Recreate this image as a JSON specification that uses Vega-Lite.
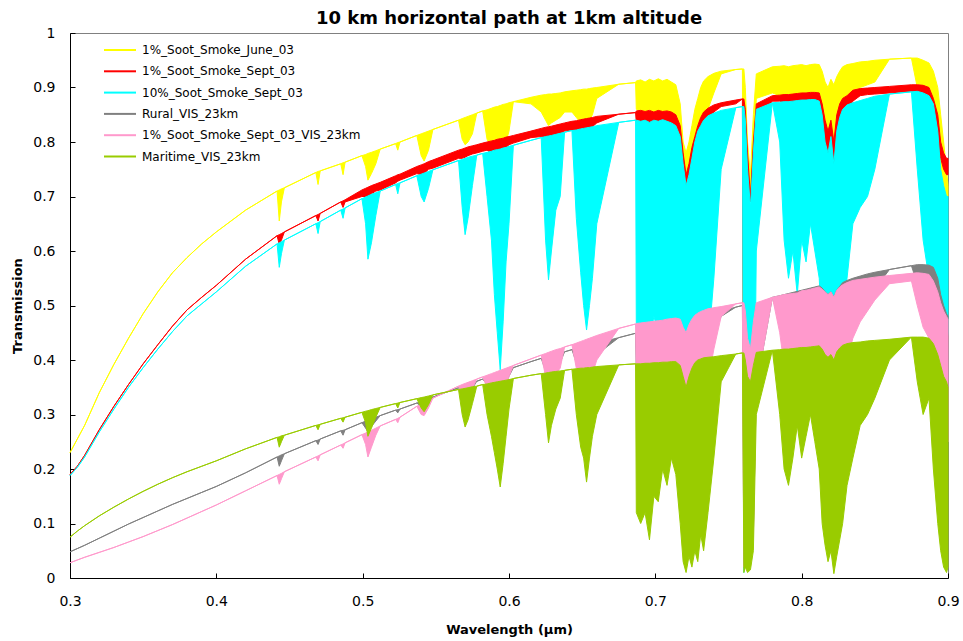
{
"$schema":"https://vega.github.io/schema/vega-lite/v6.json",
"width":878,"height":545,
"autosize":"none",
"padding":{"left":70,"top":33,"right":15,"bottom":63},
"background":"white",
"title":{"text":"10 km horizontal path at 1km altitude","font":"DejaVu Sans","fontSize":18,"fontWeight":"bold","color":"#000","offset":5,"dy":7,"anchor":"middle"},
"config":{"view":{"stroke":"#808080","strokeWidth":1},"axis":{"grid":false,"domainColor":"#000","tickColor":"#000","labelColor":"#000","titleColor":"#000","labelFont":"DejaVu Sans","titleFont":"DejaVu Sans","labelFontSize":14,"titleFontSize":13,"titleFontWeight":"bold","tickSize":-5,"labelFlush":false}},
"data":{"values":[
{"s":"a","w":0.3,"h":0.23,"l":0.23},{"s":"a","w":0.305,"h":0.255,"l":0.255},{"s":"a","w":0.31,"h":0.28,"l":0.28},{"s":"a","w":0.32,"h":0.34,"l":0.34},{"s":"a","w":0.33,"h":0.392,"l":0.392},{"s":"a","w":0.34,"h":0.44,"l":0.44},{"s":"a","w":0.35,"h":0.485,"l":0.485},{"s":"a","w":0.36,"h":0.525,"l":0.525},{"s":"a","w":0.37,"h":0.56,"l":0.56},{"s":"a","w":0.38,"h":0.588,"l":0.588},{"s":"a","w":0.39,"h":0.613,"l":0.613},{"s":"a","w":0.4,"h":0.635,"l":0.635},{"s":"a","w":0.42,"h":0.675,"l":0.675},{"s":"a","w":0.4415,"h":0.71,"l":0.71},{"s":"a","w":0.443,"h":0.712,"l":0.655},{"s":"a","w":0.4445,"h":0.714,"l":0.69},{"s":"a","w":0.4465,"h":0.716,"l":0.716},{"s":"a","w":0.468,"h":0.744,"l":0.744},{"s":"a","w":0.4695,"h":0.746,"l":0.722},{"s":"a","w":0.471,"h":0.747,"l":0.747},{"s":"a","w":0.485,"h":0.76,"l":0.76},{"s":"a","w":0.4866,"h":0.762,"l":0.74},{"s":"a","w":0.488,"h":0.763,"l":0.763},{"s":"a","w":0.4995,"h":0.775,"l":0.775},{"s":"a","w":0.502,"h":0.777,"l":0.755},{"s":"a","w":0.5036,"h":0.779,"l":0.73},{"s":"a","w":0.506,"h":0.781,"l":0.742},{"s":"a","w":0.509,"h":0.784,"l":0.76},{"s":"a","w":0.512,"h":0.787,"l":0.787},{"s":"a","w":0.5225,"h":0.797,"l":0.797},{"s":"a","w":0.524,"h":0.799,"l":0.785},{"s":"a","w":0.5255,"h":0.8,"l":0.8},{"s":"a","w":0.537,"h":0.812,"l":0.812},{"s":"a","w":0.54,"h":0.815,"l":0.775},{"s":"a","w":0.542,"h":0.817,"l":0.765},{"s":"a","w":0.545,"h":0.82,"l":0.785},{"s":"a","w":0.548,"h":0.823,"l":0.823},{"s":"a","w":0.5655,"h":0.84,"l":0.84},{"s":"a","w":0.568,"h":0.843,"l":0.805},{"s":"a","w":0.57,"h":0.845,"l":0.795},{"s":"a","w":0.572,"h":0.847,"l":0.8},{"s":"a","w":0.575,"h":0.85,"l":0.815},{"s":"a","w":0.578,"h":0.853,"l":0.853},{"s":"a","w":0.582,"h":0.857,"l":0.857},{"s":"a","w":0.585,"h":0.859,"l":0.805},{"s":"a","w":0.588,"h":0.862,"l":0.79},{"s":"a","w":0.59,"h":0.864,"l":0.78},{"s":"a","w":0.592,"h":0.865,"l":0.79},{"s":"a","w":0.594,"h":0.867,"l":0.78},{"s":"a","w":0.596,"h":0.869,"l":0.79},{"s":"a","w":0.598,"h":0.87,"l":0.8},{"s":"a","w":0.6,"h":0.872,"l":0.82},{"s":"a","w":0.603,"h":0.874,"l":0.874},{"s":"a","w":0.615,"h":0.882,"l":0.87},{"s":"a","w":0.622,"h":0.886,"l":0.855},{"s":"a","w":0.625,"h":0.887,"l":0.84},{"s":"a","w":0.627,"h":0.888,"l":0.83},{"s":"a","w":0.629,"h":0.888,"l":0.835},{"s":"a","w":0.632,"h":0.889,"l":0.84},{"s":"a","w":0.635,"h":0.89,"l":0.845},{"s":"a","w":0.638,"h":0.892,"l":0.855},{"s":"a","w":0.643,"h":0.894,"l":0.855},{"s":"a","w":0.646,"h":0.895,"l":0.845},{"s":"a","w":0.649,"h":0.896,"l":0.835},{"s":"a","w":0.651,"h":0.897,"l":0.83},{"s":"a","w":0.653,"h":0.897,"l":0.835},{"s":"a","w":0.655,"h":0.898,"l":0.84},{"s":"a","w":0.657,"h":0.899,"l":0.85},{"s":"a","w":0.66,"h":0.9,"l":0.88},{"s":"a","w":0.675,"h":0.906,"l":0.906},{"s":"a","w":0.6865,"h":0.909,"l":0.909},{"s":"a","w":0.687,"h":0.912,"l":0.86},{"s":"a","w":0.69,"h":0.914,"l":0.855},{"s":"a","w":0.693,"h":0.91,"l":0.85},{"s":"a","w":0.696,"h":0.915,"l":0.86},{"s":"a","w":0.699,"h":0.912,"l":0.85},{"s":"a","w":0.702,"h":0.916,"l":0.855},{"s":"a","w":0.705,"h":0.912,"l":0.85},{"s":"a","w":0.708,"h":0.915,"l":0.845},{"s":"a","w":0.711,"h":0.91,"l":0.84},{"s":"a","w":0.714,"h":0.905,"l":0.82},{"s":"a","w":0.717,"h":0.87,"l":0.8},{"s":"a","w":0.719,"h":0.8,"l":0.745},{"s":"a","w":0.721,"h":0.78,"l":0.74},{"s":"a","w":0.723,"h":0.8,"l":0.75},{"s":"a","w":0.725,"h":0.83,"l":0.77},{"s":"a","w":0.727,"h":0.86,"l":0.785},{"s":"a","w":0.729,"h":0.88,"l":0.8},{"s":"a","w":0.731,"h":0.9,"l":0.82},{"s":"a","w":0.733,"h":0.912,"l":0.84},{"s":"a","w":0.736,"h":0.92,"l":0.86},{"s":"a","w":0.74,"h":0.926,"l":0.89},{"s":"a","w":0.745,"h":0.93,"l":0.925},{"s":"a","w":0.755,"h":0.933,"l":0.933},{"s":"a","w":0.7595,"h":0.934,"l":0.934},{"s":"a","w":0.7605,"h":0.934,"l":0.02},{"s":"a","w":0.7615,"h":0.9,"l":0.8},{"s":"a","w":0.763,"h":0.8,"l":0.72},{"s":"a","w":0.765,"h":0.74,"l":0.7},{"s":"a","w":0.767,"h":0.85,"l":0.75},{"s":"a","w":0.769,"h":0.925,"l":0.88},{"s":"a","w":0.78,"h":0.938,"l":0.89},{"s":"a","w":0.785,"h":0.939,"l":0.885},{"s":"a","w":0.788,"h":0.94,"l":0.88},{"s":"a","w":0.791,"h":0.938,"l":0.885},{"s":"a","w":0.794,"h":0.94,"l":0.88},{"s":"a","w":0.797,"h":0.941,"l":0.885},{"s":"a","w":0.8,"h":0.942,"l":0.88},{"s":"a","w":0.803,"h":0.94,"l":0.885},{"s":"a","w":0.806,"h":0.942,"l":0.88},{"s":"a","w":0.809,"h":0.943,"l":0.885},{"s":"a","w":0.812,"h":0.942,"l":0.87},{"s":"a","w":0.814,"h":0.93,"l":0.83},{"s":"a","w":0.816,"h":0.91,"l":0.78},{"s":"a","w":0.818,"h":0.9,"l":0.76},{"s":"a","w":0.82,"h":0.915,"l":0.77},{"s":"a","w":0.822,"h":0.905,"l":0.75},{"s":"a","w":0.824,"h":0.92,"l":0.78},{"s":"a","w":0.826,"h":0.93,"l":0.8},{"s":"a","w":0.828,"h":0.938,"l":0.84},{"s":"a","w":0.831,"h":0.942,"l":0.87},{"s":"a","w":0.835,"h":0.944,"l":0.89},{"s":"a","w":0.84,"h":0.947,"l":0.9},{"s":"a","w":0.845,"h":0.948,"l":0.905},{"s":"a","w":0.85,"h":0.95,"l":0.91},{"s":"a","w":0.86,"h":0.952,"l":0.952},{"s":"a","w":0.875,"h":0.954,"l":0.954},{"s":"a","w":0.879,"h":0.954,"l":0.9},{"s":"a","w":0.883,"h":0.95,"l":0.89},{"s":"a","w":0.887,"h":0.945,"l":0.87},{"s":"a","w":0.89,"h":0.93,"l":0.84},{"s":"a","w":0.893,"h":0.9,"l":0.79},{"s":"a","w":0.895,"h":0.85,"l":0.75},{"s":"a","w":0.897,"h":0.8,"l":0.72},{"s":"a","w":0.899,"h":0.75,"l":0.7},{"s":"a","w":0.9,"h":0.72,"l":0.7},

{"s":"b","w":0.3,"h":0.19,"l":0.19},{"s":"b","w":0.305,"h":0.205,"l":0.205},{"s":"b","w":0.31,"h":0.225,"l":0.225},{"s":"b","w":0.32,"h":0.272,"l":0.272},{"s":"b","w":0.33,"h":0.315,"l":0.315},{"s":"b","w":0.34,"h":0.355,"l":0.355},{"s":"b","w":0.35,"h":0.393,"l":0.393},{"s":"b","w":0.36,"h":0.428,"l":0.428},{"s":"b","w":0.37,"h":0.462,"l":0.462},{"s":"b","w":0.38,"h":0.492,"l":0.492},{"s":"b","w":0.39,"h":0.515,"l":0.515},{"s":"b","w":0.4,"h":0.537,"l":0.537},{"s":"b","w":0.42,"h":0.585,"l":0.585},{"s":"b","w":0.4415,"h":0.628,"l":0.628},{"s":"b","w":0.443,"h":0.63,"l":0.612},{"s":"b","w":0.4445,"h":0.632,"l":0.62},{"s":"b","w":0.4465,"h":0.635,"l":0.635},{"s":"b","w":0.468,"h":0.665,"l":0.665},{"s":"b","w":0.4695,"h":0.667,"l":0.655},{"s":"b","w":0.471,"h":0.669,"l":0.669},{"s":"b","w":0.485,"h":0.69,"l":0.69},{"s":"b","w":0.4866,"h":0.692,"l":0.68},{"s":"b","w":0.488,"h":0.694,"l":0.69},{"s":"b","w":0.4995,"h":0.712,"l":0.7},{"s":"b","w":0.502,"h":0.715,"l":0.7},{"s":"b","w":0.5036,"h":0.717,"l":0.7},{"s":"b","w":0.506,"h":0.72,"l":0.705},{"s":"b","w":0.509,"h":0.723,"l":0.71},{"s":"b","w":0.512,"h":0.726,"l":0.712},{"s":"b","w":0.5225,"h":0.738,"l":0.725},{"s":"b","w":0.524,"h":0.74,"l":0.728},{"s":"b","w":0.5255,"h":0.741,"l":0.73},{"s":"b","w":0.537,"h":0.755,"l":0.742},{"s":"b","w":0.54,"h":0.758,"l":0.74},{"s":"b","w":0.542,"h":0.76,"l":0.742},{"s":"b","w":0.545,"h":0.764,"l":0.75},{"s":"b","w":0.548,"h":0.767,"l":0.752},{"s":"b","w":0.5655,"h":0.785,"l":0.77},{"s":"b","w":0.568,"h":0.787,"l":0.77},{"s":"b","w":0.57,"h":0.789,"l":0.772},{"s":"b","w":0.572,"h":0.791,"l":0.775},{"s":"b","w":0.575,"h":0.793,"l":0.778},{"s":"b","w":0.578,"h":0.795,"l":0.78},{"s":"b","w":0.582,"h":0.798,"l":0.783},{"s":"b","w":0.585,"h":0.8,"l":0.785},{"s":"b","w":0.588,"h":0.802,"l":0.78},{"s":"b","w":0.59,"h":0.803,"l":0.778},{"s":"b","w":0.592,"h":0.805,"l":0.78},{"s":"b","w":0.594,"h":0.806,"l":0.776},{"s":"b","w":0.596,"h":0.807,"l":0.782},{"s":"b","w":0.598,"h":0.809,"l":0.79},{"s":"b","w":0.6,"h":0.81,"l":0.795},{"s":"b","w":0.603,"h":0.812,"l":0.798},{"s":"b","w":0.615,"h":0.82,"l":0.808},{"s":"b","w":0.622,"h":0.825,"l":0.81},{"s":"b","w":0.625,"h":0.827,"l":0.808},{"s":"b","w":0.627,"h":0.828,"l":0.805},{"s":"b","w":0.629,"h":0.829,"l":0.808},{"s":"b","w":0.632,"h":0.831,"l":0.812},{"s":"b","w":0.635,"h":0.833,"l":0.815},{"s":"b","w":0.638,"h":0.835,"l":0.82},{"s":"b","w":0.643,"h":0.838,"l":0.822},{"s":"b","w":0.646,"h":0.839,"l":0.822},{"s":"b","w":0.649,"h":0.841,"l":0.82},{"s":"b","w":0.651,"h":0.842,"l":0.822},{"s":"b","w":0.653,"h":0.843,"l":0.82},{"s":"b","w":0.655,"h":0.844,"l":0.825},{"s":"b","w":0.657,"h":0.845,"l":0.828},{"s":"b","w":0.66,"h":0.847,"l":0.835},{"s":"b","w":0.675,"h":0.851,"l":0.851},{"s":"b","w":0.6865,"h":0.854,"l":0.854},{"s":"b","w":0.687,"h":0.857,"l":0.835},{"s":"b","w":0.69,"h":0.858,"l":0.83},{"s":"b","w":0.693,"h":0.856,"l":0.835},{"s":"b","w":0.696,"h":0.858,"l":0.83},{"s":"b","w":0.699,"h":0.855,"l":0.828},{"s":"b","w":0.702,"h":0.858,"l":0.832},{"s":"b","w":0.705,"h":0.856,"l":0.828},{"s":"b","w":0.708,"h":0.857,"l":0.83},{"s":"b","w":0.711,"h":0.855,"l":0.825},{"s":"b","w":0.714,"h":0.85,"l":0.815},{"s":"b","w":0.717,"h":0.83,"l":0.78},{"s":"b","w":0.719,"h":0.78,"l":0.73},{"s":"b","w":0.721,"h":0.74,"l":0.72},{"s":"b","w":0.723,"h":0.76,"l":0.73},{"s":"b","w":0.725,"h":0.79,"l":0.745},{"s":"b","w":0.727,"h":0.81,"l":0.76},{"s":"b","w":0.729,"h":0.83,"l":0.78},{"s":"b","w":0.731,"h":0.845,"l":0.8},{"s":"b","w":0.733,"h":0.855,"l":0.82},{"s":"b","w":0.736,"h":0.862,"l":0.84},{"s":"b","w":0.74,"h":0.868,"l":0.855},{"s":"b","w":0.745,"h":0.872,"l":0.865},{"s":"b","w":0.755,"h":0.877,"l":0.87},{"s":"b","w":0.7595,"h":0.879,"l":0.879},{"s":"b","w":0.7605,"h":0.879,"l":0.02},{"s":"b","w":0.7615,"h":0.86,"l":0.78},{"s":"b","w":0.763,"h":0.78,"l":0.7},{"s":"b","w":0.765,"h":0.7,"l":0.69},{"s":"b","w":0.767,"h":0.8,"l":0.72},{"s":"b","w":0.769,"h":0.87,"l":0.84},{"s":"b","w":0.78,"h":0.885,"l":0.875},{"s":"b","w":0.785,"h":0.886,"l":0.875},{"s":"b","w":0.788,"h":0.887,"l":0.872},{"s":"b","w":0.791,"h":0.887,"l":0.875},{"s":"b","w":0.794,"h":0.888,"l":0.872},{"s":"b","w":0.797,"h":0.889,"l":0.876},{"s":"b","w":0.8,"h":0.89,"l":0.875},{"s":"b","w":0.803,"h":0.89,"l":0.876},{"s":"b","w":0.806,"h":0.891,"l":0.874},{"s":"b","w":0.809,"h":0.891,"l":0.876},{"s":"b","w":0.812,"h":0.89,"l":0.86},{"s":"b","w":0.814,"h":0.87,"l":0.8},{"s":"b","w":0.816,"h":0.84,"l":0.76},{"s":"b","w":0.818,"h":0.82,"l":0.74},{"s":"b","w":0.82,"h":0.84,"l":0.76},{"s":"b","w":0.822,"h":0.8,"l":0.72},{"s":"b","w":0.824,"h":0.85,"l":0.77},{"s":"b","w":0.826,"h":0.87,"l":0.8},{"s":"b","w":0.828,"h":0.88,"l":0.83},{"s":"b","w":0.831,"h":0.885,"l":0.86},{"s":"b","w":0.835,"h":0.895,"l":0.875},{"s":"b","w":0.84,"h":0.898,"l":0.885},{"s":"b","w":0.845,"h":0.899,"l":0.887},{"s":"b","w":0.85,"h":0.9,"l":0.888},{"s":"b","w":0.86,"h":0.902,"l":0.89},{"s":"b","w":0.875,"h":0.905,"l":0.893},{"s":"b","w":0.879,"h":0.905,"l":0.89},{"s":"b","w":0.883,"h":0.904,"l":0.885},{"s":"b","w":0.887,"h":0.9,"l":0.87},{"s":"b","w":0.89,"h":0.88,"l":0.84},{"s":"b","w":0.893,"h":0.85,"l":0.8},{"s":"b","w":0.895,"h":0.8,"l":0.77},{"s":"b","w":0.897,"h":0.78,"l":0.75},{"s":"b","w":0.899,"h":0.77,"l":0.74},{"s":"b","w":0.9,"h":0.77,"l":0.74},

{"s":"c","w":0.3,"h":0.188,"l":0.188},{"s":"c","w":0.305,"h":0.203,"l":0.203},{"s":"c","w":0.31,"h":0.222,"l":0.222},{"s":"c","w":0.32,"h":0.268,"l":0.268},{"s":"c","w":0.33,"h":0.31,"l":0.31},{"s":"c","w":0.34,"h":0.35,"l":0.35},{"s":"c","w":0.35,"h":0.386,"l":0.386},{"s":"c","w":0.36,"h":0.42,"l":0.42},{"s":"c","w":0.37,"h":0.452,"l":0.452},{"s":"c","w":0.38,"h":0.481,"l":0.481},{"s":"c","w":0.39,"h":0.503,"l":0.503},{"s":"c","w":0.4,"h":0.525,"l":0.525},{"s":"c","w":0.42,"h":0.572,"l":0.572},{"s":"c","w":0.4415,"h":0.613,"l":0.613},{"s":"c","w":0.443,"h":0.615,"l":0.57},{"s":"c","w":0.4445,"h":0.617,"l":0.595},{"s":"c","w":0.4465,"h":0.62,"l":0.62},{"s":"c","w":0.468,"h":0.65,"l":0.65},{"s":"c","w":0.4695,"h":0.652,"l":0.632},{"s":"c","w":0.471,"h":0.654,"l":0.654},{"s":"c","w":0.485,"h":0.675,"l":0.675},{"s":"c","w":0.4866,"h":0.677,"l":0.66},{"s":"c","w":0.488,"h":0.679,"l":0.679},{"s":"c","w":0.4995,"h":0.696,"l":0.696},{"s":"c","w":0.502,"h":0.699,"l":0.65},{"s":"c","w":0.5036,"h":0.701,"l":0.585},{"s":"c","w":0.506,"h":0.704,"l":0.615},{"s":"c","w":0.509,"h":0.707,"l":0.665},{"s":"c","w":0.512,"h":0.71,"l":0.71},{"s":"c","w":0.5225,"h":0.722,"l":0.722},{"s":"c","w":0.524,"h":0.724,"l":0.705},{"s":"c","w":0.5255,"h":0.725,"l":0.725},{"s":"c","w":0.537,"h":0.738,"l":0.738},{"s":"c","w":0.54,"h":0.741,"l":0.7},{"s":"c","w":0.542,"h":0.743,"l":0.69},{"s":"c","w":0.545,"h":0.746,"l":0.715},{"s":"c","w":0.548,"h":0.749,"l":0.749},{"s":"c","w":0.5655,"h":0.766,"l":0.766},{"s":"c","w":0.568,"h":0.768,"l":0.68},{"s":"c","w":0.57,"h":0.77,"l":0.63},{"s":"c","w":0.572,"h":0.772,"l":0.66},{"s":"c","w":0.575,"h":0.774,"l":0.72},{"s":"c","w":0.578,"h":0.776,"l":0.776},{"s":"c","w":0.582,"h":0.779,"l":0.779},{"s":"c","w":0.585,"h":0.781,"l":0.7},{"s":"c","w":0.588,"h":0.783,"l":0.62},{"s":"c","w":0.59,"h":0.785,"l":0.52},{"s":"c","w":0.592,"h":0.786,"l":0.45},{"s":"c","w":0.594,"h":0.787,"l":0.382},{"s":"c","w":0.596,"h":0.789,"l":0.47},{"s":"c","w":0.598,"h":0.79,"l":0.58},{"s":"c","w":0.6,"h":0.792,"l":0.65},{"s":"c","w":0.603,"h":0.794,"l":0.794},{"s":"c","w":0.615,"h":0.803,"l":0.803},{"s":"c","w":0.622,"h":0.808,"l":0.808},{"s":"c","w":0.625,"h":0.81,"l":0.62},{"s":"c","w":0.627,"h":0.811,"l":0.547},{"s":"c","w":0.629,"h":0.812,"l":0.6},{"s":"c","w":0.632,"h":0.814,"l":0.675},{"s":"c","w":0.635,"h":0.816,"l":0.7},{"s":"c","w":0.638,"h":0.818,"l":0.818},{"s":"c","w":0.643,"h":0.821,"l":0.821},{"s":"c","w":0.646,"h":0.822,"l":0.66},{"s":"c","w":0.649,"h":0.824,"l":0.56},{"s":"c","w":0.651,"h":0.825,"l":0.5},{"s":"c","w":0.653,"h":0.826,"l":0.455},{"s":"c","w":0.655,"h":0.827,"l":0.5},{"s":"c","w":0.657,"h":0.828,"l":0.55},{"s":"c","w":0.66,"h":0.83,"l":0.65},{"s":"c","w":0.675,"h":0.836,"l":0.836},{"s":"c","w":0.6865,"h":0.84,"l":0.84},{"s":"c","w":0.687,"h":0.84,"l":0.46},{"s":"c","w":0.69,"h":0.838,"l":0.44},{"s":"c","w":0.693,"h":0.84,"l":0.47},{"s":"c","w":0.696,"h":0.836,"l":0.43},{"s":"c","w":0.699,"h":0.84,"l":0.48},{"s":"c","w":0.702,"h":0.838,"l":0.45},{"s":"c","w":0.705,"h":0.841,"l":0.47},{"s":"c","w":0.708,"h":0.838,"l":0.44},{"s":"c","w":0.711,"h":0.835,"l":0.45},{"s":"c","w":0.714,"h":0.83,"l":0.42},{"s":"c","w":0.717,"h":0.81,"l":0.4},{"s":"c","w":0.719,"h":0.76,"l":0.34},{"s":"c","w":0.721,"h":0.72,"l":0.3},{"s":"c","w":0.723,"h":0.74,"l":0.32},{"s":"c","w":0.725,"h":0.77,"l":0.3},{"s":"c","w":0.727,"h":0.8,"l":0.32},{"s":"c","w":0.729,"h":0.82,"l":0.34},{"s":"c","w":0.731,"h":0.83,"l":0.35},{"s":"c","w":0.733,"h":0.84,"l":0.38},{"s":"c","w":0.736,"h":0.848,"l":0.42},{"s":"c","w":0.74,"h":0.853,"l":0.55},{"s":"c","w":0.745,"h":0.858,"l":0.75},{"s":"c","w":0.755,"h":0.863,"l":0.863},{"s":"c","w":0.7595,"h":0.865,"l":0.865},{"s":"c","w":0.7605,"h":0.865,"l":0.01},{"s":"c","w":0.7615,"h":0.84,"l":0.05},{"s":"c","w":0.763,"h":0.75,"l":0.02},{"s":"c","w":0.765,"h":0.68,"l":0.03},{"s":"c","w":0.767,"h":0.78,"l":0.1},{"s":"c","w":0.769,"h":0.86,"l":0.6},{"s":"c","w":0.78,"h":0.872,"l":0.872},{"s":"c","w":0.785,"h":0.873,"l":0.8},{"s":"c","w":0.788,"h":0.874,"l":0.62},{"s":"c","w":0.791,"h":0.874,"l":0.55},{"s":"c","w":0.794,"h":0.875,"l":0.6},{"s":"c","w":0.797,"h":0.876,"l":0.52},{"s":"c","w":0.8,"h":0.877,"l":0.62},{"s":"c","w":0.803,"h":0.877,"l":0.58},{"s":"c","w":0.806,"h":0.878,"l":0.65},{"s":"c","w":0.809,"h":0.878,"l":0.6},{"s":"c","w":0.812,"h":0.875,"l":0.55},{"s":"c","w":0.814,"h":0.85,"l":0.44},{"s":"c","w":0.816,"h":0.8,"l":0.4},{"s":"c","w":0.818,"h":0.78,"l":0.42},{"s":"c","w":0.82,"h":0.81,"l":0.38},{"s":"c","w":0.822,"h":0.76,"l":0.4},{"s":"c","w":0.824,"h":0.82,"l":0.36},{"s":"c","w":0.826,"h":0.845,"l":0.42},{"s":"c","w":0.828,"h":0.86,"l":0.46},{"s":"c","w":0.831,"h":0.868,"l":0.55},{"s":"c","w":0.835,"h":0.872,"l":0.65},{"s":"c","w":0.84,"h":0.876,"l":0.68},{"s":"c","w":0.845,"h":0.88,"l":0.7},{"s":"c","w":0.85,"h":0.884,"l":0.75},{"s":"c","w":0.86,"h":0.888,"l":0.888},{"s":"c","w":0.875,"h":0.892,"l":0.892},{"s":"c","w":0.879,"h":0.893,"l":0.75},{"s":"c","w":0.883,"h":0.89,"l":0.62},{"s":"c","w":0.887,"h":0.885,"l":0.55},{"s":"c","w":0.89,"h":0.87,"l":0.5},{"s":"c","w":0.893,"h":0.82,"l":0.42},{"s":"c","w":0.895,"h":0.75,"l":0.4},{"s":"c","w":0.897,"h":0.72,"l":0.42},{"s":"c","w":0.899,"h":0.7,"l":0.43},{"s":"c","w":0.9,"h":0.7,"l":0.45},

{"s":"d","w":0.3,"h":0.048,"l":0.048},{"s":"d","w":0.305,"h":0.054,"l":0.054},{"s":"d","w":0.31,"h":0.06,"l":0.06},{"s":"d","w":0.32,"h":0.073,"l":0.073},{"s":"d","w":0.33,"h":0.086,"l":0.086},{"s":"d","w":0.34,"h":0.099,"l":0.099},{"s":"d","w":0.35,"h":0.111,"l":0.111},{"s":"d","w":0.36,"h":0.123,"l":0.123},{"s":"d","w":0.37,"h":0.135,"l":0.135},{"s":"d","w":0.38,"h":0.146,"l":0.146},{"s":"d","w":0.39,"h":0.157,"l":0.157},{"s":"d","w":0.4,"h":0.168,"l":0.168},{"s":"d","w":0.42,"h":0.193,"l":0.193},{"s":"d","w":0.4415,"h":0.222,"l":0.222},{"s":"d","w":0.443,"h":0.224,"l":0.205},{"s":"d","w":0.4445,"h":0.226,"l":0.215},{"s":"d","w":0.4465,"h":0.228,"l":0.228},{"s":"d","w":0.468,"h":0.252,"l":0.252},{"s":"d","w":0.4695,"h":0.253,"l":0.245},{"s":"d","w":0.471,"h":0.255,"l":0.255},{"s":"d","w":0.485,"h":0.27,"l":0.27},{"s":"d","w":0.4866,"h":0.271,"l":0.262},{"s":"d","w":0.488,"h":0.272,"l":0.272},{"s":"d","w":0.4995,"h":0.285,"l":0.285},{"s":"d","w":0.502,"h":0.288,"l":0.275},{"s":"d","w":0.5036,"h":0.29,"l":0.268},{"s":"d","w":0.506,"h":0.292,"l":0.278},{"s":"d","w":0.509,"h":0.295,"l":0.288},{"s":"d","w":0.512,"h":0.298,"l":0.298},{"s":"d","w":0.5225,"h":0.308,"l":0.308},{"s":"d","w":0.524,"h":0.309,"l":0.303},{"s":"d","w":0.5255,"h":0.31,"l":0.31},{"s":"d","w":0.537,"h":0.321,"l":0.321},{"s":"d","w":0.54,"h":0.324,"l":0.315},{"s":"d","w":0.542,"h":0.326,"l":0.312},{"s":"d","w":0.545,"h":0.329,"l":0.32},{"s":"d","w":0.548,"h":0.332,"l":0.332},{"s":"d","w":0.5655,"h":0.349,"l":0.349},{"s":"d","w":0.568,"h":0.351,"l":0.34},{"s":"d","w":0.57,"h":0.353,"l":0.335},{"s":"d","w":0.572,"h":0.355,"l":0.338},{"s":"d","w":0.575,"h":0.358,"l":0.348},{"s":"d","w":0.578,"h":0.361,"l":0.361},{"s":"d","w":0.582,"h":0.365,"l":0.365},{"s":"d","w":0.585,"h":0.368,"l":0.355},{"s":"d","w":0.588,"h":0.371,"l":0.35},{"s":"d","w":0.59,"h":0.373,"l":0.345},{"s":"d","w":0.592,"h":0.375,"l":0.34},{"s":"d","w":0.594,"h":0.377,"l":0.335},{"s":"d","w":0.596,"h":0.379,"l":0.345},{"s":"d","w":0.598,"h":0.381,"l":0.355},{"s":"d","w":0.6,"h":0.383,"l":0.37},{"s":"d","w":0.603,"h":0.386,"l":0.386},{"s":"d","w":0.615,"h":0.397,"l":0.397},{"s":"d","w":0.622,"h":0.403,"l":0.403},{"s":"d","w":0.625,"h":0.405,"l":0.38},{"s":"d","w":0.627,"h":0.407,"l":0.365},{"s":"d","w":0.629,"h":0.408,"l":0.375},{"s":"d","w":0.632,"h":0.411,"l":0.385},{"s":"d","w":0.635,"h":0.413,"l":0.395},{"s":"d","w":0.638,"h":0.415,"l":0.415},{"s":"d","w":0.643,"h":0.419,"l":0.419},{"s":"d","w":0.646,"h":0.421,"l":0.395},{"s":"d","w":0.649,"h":0.423,"l":0.38},{"s":"d","w":0.651,"h":0.424,"l":0.37},{"s":"d","w":0.653,"h":0.426,"l":0.365},{"s":"d","w":0.655,"h":0.427,"l":0.375},{"s":"d","w":0.657,"h":0.429,"l":0.39},{"s":"d","w":0.66,"h":0.431,"l":0.41},{"s":"d","w":0.675,"h":0.441,"l":0.441},{"s":"d","w":0.6865,"h":0.449,"l":0.449},{"s":"d","w":0.687,"h":0.449,"l":0.38},{"s":"d","w":0.69,"h":0.451,"l":0.37},{"s":"d","w":0.693,"h":0.452,"l":0.38},{"s":"d","w":0.696,"h":0.454,"l":0.37},{"s":"d","w":0.699,"h":0.456,"l":0.385},{"s":"d","w":0.702,"h":0.457,"l":0.375},{"s":"d","w":0.705,"h":0.459,"l":0.385},{"s":"d","w":0.708,"h":0.461,"l":0.375},{"s":"d","w":0.711,"h":0.463,"l":0.385},{"s":"d","w":0.714,"h":0.464,"l":0.37},{"s":"d","w":0.717,"h":0.46,"l":0.35},{"s":"d","w":0.719,"h":0.44,"l":0.32},{"s":"d","w":0.721,"h":0.42,"l":0.3},{"s":"d","w":0.723,"h":0.44,"l":0.31},{"s":"d","w":0.725,"h":0.455,"l":0.3},{"s":"d","w":0.727,"h":0.465,"l":0.32},{"s":"d","w":0.729,"h":0.472,"l":0.33},{"s":"d","w":0.731,"h":0.478,"l":0.34},{"s":"d","w":0.733,"h":0.482,"l":0.36},{"s":"d","w":0.736,"h":0.485,"l":0.4},{"s":"d","w":0.74,"h":0.488,"l":0.45},{"s":"d","w":0.745,"h":0.49,"l":0.48},{"s":"d","w":0.755,"h":0.497,"l":0.497},{"s":"d","w":0.7595,"h":0.5,"l":0.5},{"s":"d","w":0.7605,"h":0.5,"l":0.02},{"s":"d","w":0.7615,"h":0.48,"l":0.04},{"s":"d","w":0.763,"h":0.42,"l":0.03},{"s":"d","w":0.765,"h":0.4,"l":0.04},{"s":"d","w":0.767,"h":0.46,"l":0.08},{"s":"d","w":0.769,"h":0.5,"l":0.35},{"s":"d","w":0.78,"h":0.515,"l":0.515},{"s":"d","w":0.785,"h":0.518,"l":0.47},{"s":"d","w":0.788,"h":0.52,"l":0.42},{"s":"d","w":0.791,"h":0.522,"l":0.4},{"s":"d","w":0.794,"h":0.524,"l":0.43},{"s":"d","w":0.797,"h":0.526,"l":0.4},{"s":"d","w":0.8,"h":0.528,"l":0.43},{"s":"d","w":0.803,"h":0.53,"l":0.42},{"s":"d","w":0.806,"h":0.532,"l":0.45},{"s":"d","w":0.809,"h":0.534,"l":0.43},{"s":"d","w":0.812,"h":0.536,"l":0.4},{"s":"d","w":0.814,"h":0.532,"l":0.36},{"s":"d","w":0.816,"h":0.525,"l":0.34},{"s":"d","w":0.818,"h":0.52,"l":0.33},{"s":"d","w":0.82,"h":0.525,"l":0.32},{"s":"d","w":0.822,"h":0.515,"l":0.33},{"s":"d","w":0.824,"h":0.528,"l":0.32},{"s":"d","w":0.826,"h":0.535,"l":0.35},{"s":"d","w":0.828,"h":0.542,"l":0.38},{"s":"d","w":0.831,"h":0.546,"l":0.42},{"s":"d","w":0.835,"h":0.55,"l":0.47},{"s":"d","w":0.84,"h":0.554,"l":0.5},{"s":"d","w":0.845,"h":0.558,"l":0.51},{"s":"d","w":0.85,"h":0.561,"l":0.53},{"s":"d","w":0.86,"h":0.566,"l":0.566},{"s":"d","w":0.875,"h":0.573,"l":0.573},{"s":"d","w":0.879,"h":0.575,"l":0.54},{"s":"d","w":0.883,"h":0.575,"l":0.5},{"s":"d","w":0.887,"h":0.574,"l":0.48},{"s":"d","w":0.89,"h":0.57,"l":0.45},{"s":"d","w":0.893,"h":0.55,"l":0.4},{"s":"d","w":0.895,"h":0.52,"l":0.35},{"s":"d","w":0.897,"h":0.5,"l":0.32},{"s":"d","w":0.899,"h":0.485,"l":0.3},{"s":"d","w":0.9,"h":0.48,"l":0.3},

{"s":"e","w":0.3,"h":0.028,"l":0.028},{"s":"e","w":0.305,"h":0.033,"l":0.033},{"s":"e","w":0.31,"h":0.038,"l":0.038},{"s":"e","w":0.32,"h":0.047,"l":0.047},{"s":"e","w":0.33,"h":0.056,"l":0.056},{"s":"e","w":0.34,"h":0.066,"l":0.066},{"s":"e","w":0.35,"h":0.076,"l":0.076},{"s":"e","w":0.36,"h":0.087,"l":0.087},{"s":"e","w":0.37,"h":0.098,"l":0.098},{"s":"e","w":0.38,"h":0.11,"l":0.11},{"s":"e","w":0.39,"h":0.122,"l":0.122},{"s":"e","w":0.4,"h":0.134,"l":0.134},{"s":"e","w":0.42,"h":0.16,"l":0.16},{"s":"e","w":0.4415,"h":0.188,"l":0.188},{"s":"e","w":0.443,"h":0.19,"l":0.172},{"s":"e","w":0.4445,"h":0.192,"l":0.182},{"s":"e","w":0.4465,"h":0.195,"l":0.195},{"s":"e","w":0.468,"h":0.222,"l":0.222},{"s":"e","w":0.4695,"h":0.224,"l":0.215},{"s":"e","w":0.471,"h":0.226,"l":0.226},{"s":"e","w":0.485,"h":0.244,"l":0.244},{"s":"e","w":0.4866,"h":0.246,"l":0.238},{"s":"e","w":0.488,"h":0.248,"l":0.248},{"s":"e","w":0.4995,"h":0.263,"l":0.263},{"s":"e","w":0.502,"h":0.266,"l":0.245},{"s":"e","w":0.5036,"h":0.268,"l":0.222},{"s":"e","w":0.506,"h":0.271,"l":0.24},{"s":"e","w":0.509,"h":0.275,"l":0.262},{"s":"e","w":0.512,"h":0.279,"l":0.279},{"s":"e","w":0.5225,"h":0.291,"l":0.291},{"s":"e","w":0.524,"h":0.293,"l":0.285},{"s":"e","w":0.5255,"h":0.295,"l":0.295},{"s":"e","w":0.537,"h":0.315,"l":0.315},{"s":"e","w":0.54,"h":0.319,"l":0.3},{"s":"e","w":0.542,"h":0.322,"l":0.298},{"s":"e","w":0.545,"h":0.326,"l":0.312},{"s":"e","w":0.548,"h":0.33,"l":0.33},{"s":"e","w":0.5655,"h":0.352,"l":0.352},{"s":"e","w":0.568,"h":0.355,"l":0.335},{"s":"e","w":0.57,"h":0.357,"l":0.325},{"s":"e","w":0.572,"h":0.359,"l":0.33},{"s":"e","w":0.575,"h":0.362,"l":0.348},{"s":"e","w":0.578,"h":0.365,"l":0.365},{"s":"e","w":0.582,"h":0.369,"l":0.369},{"s":"e","w":0.585,"h":0.372,"l":0.35},{"s":"e","w":0.588,"h":0.375,"l":0.34},{"s":"e","w":0.59,"h":0.377,"l":0.33},{"s":"e","w":0.592,"h":0.379,"l":0.32},{"s":"e","w":0.594,"h":0.381,"l":0.31},{"s":"e","w":0.596,"h":0.383,"l":0.33},{"s":"e","w":0.598,"h":0.385,"l":0.35},{"s":"e","w":0.6,"h":0.387,"l":0.37},{"s":"e","w":0.603,"h":0.39,"l":0.39},{"s":"e","w":0.615,"h":0.402,"l":0.402},{"s":"e","w":0.622,"h":0.409,"l":0.409},{"s":"e","w":0.625,"h":0.412,"l":0.37},{"s":"e","w":0.627,"h":0.414,"l":0.355},{"s":"e","w":0.629,"h":0.416,"l":0.365},{"s":"e","w":0.632,"h":0.419,"l":0.375},{"s":"e","w":0.635,"h":0.421,"l":0.385},{"s":"e","w":0.638,"h":0.424,"l":0.424},{"s":"e","w":0.643,"h":0.428,"l":0.428},{"s":"e","w":0.646,"h":0.431,"l":0.385},{"s":"e","w":0.649,"h":0.434,"l":0.37},{"s":"e","w":0.651,"h":0.436,"l":0.36},{"s":"e","w":0.653,"h":0.438,"l":0.35},{"s":"e","w":0.655,"h":0.44,"l":0.36},{"s":"e","w":0.657,"h":0.442,"l":0.375},{"s":"e","w":0.66,"h":0.445,"l":0.4},{"s":"e","w":0.675,"h":0.458,"l":0.458},{"s":"e","w":0.6865,"h":0.466,"l":0.466},{"s":"e","w":0.687,"h":0.467,"l":0.36},{"s":"e","w":0.69,"h":0.468,"l":0.34},{"s":"e","w":0.693,"h":0.469,"l":0.35},{"s":"e","w":0.696,"h":0.47,"l":0.33},{"s":"e","w":0.699,"h":0.471,"l":0.35},{"s":"e","w":0.702,"h":0.472,"l":0.34},{"s":"e","w":0.705,"h":0.473,"l":0.35},{"s":"e","w":0.708,"h":0.475,"l":0.34},{"s":"e","w":0.711,"h":0.476,"l":0.35},{"s":"e","w":0.714,"h":0.477,"l":0.33},{"s":"e","w":0.717,"h":0.475,"l":0.3},{"s":"e","w":0.719,"h":0.46,"l":0.28},{"s":"e","w":0.721,"h":0.45,"l":0.26},{"s":"e","w":0.723,"h":0.465,"l":0.27},{"s":"e","w":0.725,"h":0.475,"l":0.26},{"s":"e","w":0.727,"h":0.482,"l":0.28},{"s":"e","w":0.729,"h":0.486,"l":0.29},{"s":"e","w":0.731,"h":0.489,"l":0.3},{"s":"e","w":0.733,"h":0.491,"l":0.32},{"s":"e","w":0.736,"h":0.494,"l":0.36},{"s":"e","w":0.74,"h":0.496,"l":0.42},{"s":"e","w":0.745,"h":0.498,"l":0.48},{"s":"e","w":0.755,"h":0.503,"l":0.503},{"s":"e","w":0.7595,"h":0.505,"l":0.505},{"s":"e","w":0.7605,"h":0.505,"l":0.02},{"s":"e","w":0.7615,"h":0.49,"l":0.04},{"s":"e","w":0.763,"h":0.44,"l":0.03},{"s":"e","w":0.765,"h":0.42,"l":0.04},{"s":"e","w":0.767,"h":0.47,"l":0.08},{"s":"e","w":0.769,"h":0.505,"l":0.35},{"s":"e","w":0.78,"h":0.515,"l":0.515},{"s":"e","w":0.785,"h":0.518,"l":0.45},{"s":"e","w":0.788,"h":0.52,"l":0.39},{"s":"e","w":0.791,"h":0.521,"l":0.37},{"s":"e","w":0.794,"h":0.522,"l":0.4},{"s":"e","w":0.797,"h":0.523,"l":0.37},{"s":"e","w":0.8,"h":0.527,"l":0.4},{"s":"e","w":0.803,"h":0.528,"l":0.39},{"s":"e","w":0.806,"h":0.53,"l":0.42},{"s":"e","w":0.809,"h":0.532,"l":0.4},{"s":"e","w":0.812,"h":0.534,"l":0.38},{"s":"e","w":0.814,"h":0.53,"l":0.34},{"s":"e","w":0.816,"h":0.525,"l":0.32},{"s":"e","w":0.818,"h":0.52,"l":0.33},{"s":"e","w":0.82,"h":0.525,"l":0.31},{"s":"e","w":0.822,"h":0.515,"l":0.32},{"s":"e","w":0.824,"h":0.528,"l":0.31},{"s":"e","w":0.826,"h":0.534,"l":0.33},{"s":"e","w":0.828,"h":0.538,"l":0.35},{"s":"e","w":0.831,"h":0.542,"l":0.4},{"s":"e","w":0.835,"h":0.546,"l":0.44},{"s":"e","w":0.84,"h":0.548,"l":0.47},{"s":"e","w":0.845,"h":0.55,"l":0.49},{"s":"e","w":0.85,"h":0.552,"l":0.51},{"s":"e","w":0.86,"h":0.555,"l":0.54},{"s":"e","w":0.875,"h":0.559,"l":0.545},{"s":"e","w":0.879,"h":0.56,"l":0.5},{"s":"e","w":0.883,"h":0.559,"l":0.46},{"s":"e","w":0.887,"h":0.557,"l":0.44},{"s":"e","w":0.89,"h":0.545,"l":0.4},{"s":"e","w":0.893,"h":0.525,"l":0.35},{"s":"e","w":0.895,"h":0.505,"l":0.3},{"s":"e","w":0.897,"h":0.49,"l":0.28},{"s":"e","w":0.899,"h":0.48,"l":0.26},{"s":"e","w":0.9,"h":0.475,"l":0.25},

{"s":"f","w":0.3,"h":0.075,"l":0.075},{"s":"f","w":0.305,"h":0.086,"l":0.086},{"s":"f","w":0.31,"h":0.096,"l":0.096},{"s":"f","w":0.32,"h":0.114,"l":0.114},{"s":"f","w":0.33,"h":0.13,"l":0.13},{"s":"f","w":0.34,"h":0.145,"l":0.145},{"s":"f","w":0.35,"h":0.159,"l":0.159},{"s":"f","w":0.36,"h":0.172,"l":0.172},{"s":"f","w":0.37,"h":0.184,"l":0.184},{"s":"f","w":0.38,"h":0.195,"l":0.195},{"s":"f","w":0.39,"h":0.205,"l":0.205},{"s":"f","w":0.4,"h":0.215,"l":0.215},{"s":"f","w":0.42,"h":0.237,"l":0.237},{"s":"f","w":0.4415,"h":0.258,"l":0.258},{"s":"f","w":0.443,"h":0.259,"l":0.24},{"s":"f","w":0.4445,"h":0.261,"l":0.25},{"s":"f","w":0.4465,"h":0.262,"l":0.262},{"s":"f","w":0.468,"h":0.28,"l":0.28},{"s":"f","w":0.4695,"h":0.281,"l":0.272},{"s":"f","w":0.471,"h":0.282,"l":0.282},{"s":"f","w":0.485,"h":0.293,"l":0.293},{"s":"f","w":0.4866,"h":0.294,"l":0.286},{"s":"f","w":0.488,"h":0.295,"l":0.295},{"s":"f","w":0.4995,"h":0.304,"l":0.304},{"s":"f","w":0.502,"h":0.306,"l":0.285},{"s":"f","w":0.5036,"h":0.307,"l":0.26},{"s":"f","w":0.506,"h":0.309,"l":0.275},{"s":"f","w":0.509,"h":0.311,"l":0.295},{"s":"f","w":0.512,"h":0.313,"l":0.313},{"s":"f","w":0.5225,"h":0.32,"l":0.32},{"s":"f","w":0.524,"h":0.321,"l":0.312},{"s":"f","w":0.5255,"h":0.322,"l":0.322},{"s":"f","w":0.537,"h":0.329,"l":0.329},{"s":"f","w":0.54,"h":0.331,"l":0.312},{"s":"f","w":0.542,"h":0.332,"l":0.305},{"s":"f","w":0.545,"h":0.334,"l":0.318},{"s":"f","w":0.548,"h":0.336,"l":0.336},{"s":"f","w":0.5655,"h":0.346,"l":0.346},{"s":"f","w":0.568,"h":0.347,"l":0.3},{"s":"f","w":0.57,"h":0.348,"l":0.277},{"s":"f","w":0.572,"h":0.349,"l":0.29},{"s":"f","w":0.575,"h":0.351,"l":0.32},{"s":"f","w":0.578,"h":0.352,"l":0.352},{"s":"f","w":0.582,"h":0.355,"l":0.355},{"s":"f","w":0.585,"h":0.356,"l":0.3},{"s":"f","w":0.588,"h":0.358,"l":0.26},{"s":"f","w":0.59,"h":0.359,"l":0.23},{"s":"f","w":0.592,"h":0.36,"l":0.2},{"s":"f","w":0.594,"h":0.361,"l":0.167},{"s":"f","w":0.596,"h":0.362,"l":0.21},{"s":"f","w":0.598,"h":0.363,"l":0.26},{"s":"f","w":0.6,"h":0.364,"l":0.31},{"s":"f","w":0.603,"h":0.366,"l":0.366},{"s":"f","w":0.615,"h":0.372,"l":0.372},{"s":"f","w":0.622,"h":0.375,"l":0.375},{"s":"f","w":0.625,"h":0.376,"l":0.3},{"s":"f","w":0.627,"h":0.377,"l":0.248},{"s":"f","w":0.629,"h":0.378,"l":0.28},{"s":"f","w":0.632,"h":0.379,"l":0.31},{"s":"f","w":0.635,"h":0.38,"l":0.33},{"s":"f","w":0.638,"h":0.381,"l":0.381},{"s":"f","w":0.643,"h":0.383,"l":0.383},{"s":"f","w":0.646,"h":0.384,"l":0.3},{"s":"f","w":0.649,"h":0.385,"l":0.24},{"s":"f","w":0.651,"h":0.385,"l":0.22},{"s":"f","w":0.653,"h":0.386,"l":0.176},{"s":"f","w":0.655,"h":0.386,"l":0.22},{"s":"f","w":0.657,"h":0.387,"l":0.26},{"s":"f","w":0.66,"h":0.388,"l":0.3},{"s":"f","w":0.675,"h":0.391,"l":0.391},{"s":"f","w":0.6865,"h":0.393,"l":0.393},{"s":"f","w":0.687,"h":0.393,"l":0.12},{"s":"f","w":0.69,"h":0.393,"l":0.1},{"s":"f","w":0.693,"h":0.394,"l":0.12},{"s":"f","w":0.696,"h":0.394,"l":0.07},{"s":"f","w":0.699,"h":0.395,"l":0.15},{"s":"f","w":0.702,"h":0.395,"l":0.14},{"s":"f","w":0.705,"h":0.396,"l":0.2},{"s":"f","w":0.708,"h":0.396,"l":0.17},{"s":"f","w":0.711,"h":0.397,"l":0.22},{"s":"f","w":0.714,"h":0.397,"l":0.19},{"s":"f","w":0.717,"h":0.39,"l":0.1},{"s":"f","w":0.719,"h":0.37,"l":0.03},{"s":"f","w":0.721,"h":0.35,"l":0.01},{"s":"f","w":0.723,"h":0.37,"l":0.04},{"s":"f","w":0.725,"h":0.385,"l":0.02},{"s":"f","w":0.727,"h":0.395,"l":0.05},{"s":"f","w":0.729,"h":0.4,"l":0.03},{"s":"f","w":0.731,"h":0.402,"l":0.08},{"s":"f","w":0.733,"h":0.404,"l":0.05},{"s":"f","w":0.736,"h":0.405,"l":0.12},{"s":"f","w":0.74,"h":0.406,"l":0.22},{"s":"f","w":0.745,"h":0.408,"l":0.36},{"s":"f","w":0.755,"h":0.411,"l":0.411},{"s":"f","w":0.7595,"h":0.413,"l":0.413},{"s":"f","w":0.7605,"h":0.413,"l":0.01},{"s":"f","w":0.7615,"h":0.4,"l":0.02},{"s":"f","w":0.763,"h":0.37,"l":0.01},{"s":"f","w":0.765,"h":0.36,"l":0.015},{"s":"f","w":0.767,"h":0.39,"l":0.05},{"s":"f","w":0.769,"h":0.414,"l":0.3},{"s":"f","w":0.78,"h":0.418,"l":0.418},{"s":"f","w":0.785,"h":0.419,"l":0.3},{"s":"f","w":0.788,"h":0.42,"l":0.2},{"s":"f","w":0.791,"h":0.42,"l":0.17},{"s":"f","w":0.794,"h":0.421,"l":0.22},{"s":"f","w":0.797,"h":0.422,"l":0.28},{"s":"f","w":0.8,"h":0.423,"l":0.22},{"s":"f","w":0.803,"h":0.423,"l":0.26},{"s":"f","w":0.806,"h":0.424,"l":0.3},{"s":"f","w":0.809,"h":0.425,"l":0.25},{"s":"f","w":0.812,"h":0.426,"l":0.2},{"s":"f","w":0.814,"h":0.42,"l":0.1},{"s":"f","w":0.816,"h":0.41,"l":0.06},{"s":"f","w":0.818,"h":0.405,"l":0.03},{"s":"f","w":0.82,"h":0.41,"l":0.05},{"s":"f","w":0.822,"h":0.4,"l":0.008},{"s":"f","w":0.824,"h":0.415,"l":0.04},{"s":"f","w":0.826,"h":0.422,"l":0.07},{"s":"f","w":0.828,"h":0.427,"l":0.1},{"s":"f","w":0.831,"h":0.43,"l":0.17},{"s":"f","w":0.835,"h":0.432,"l":0.22},{"s":"f","w":0.84,"h":0.433,"l":0.28},{"s":"f","w":0.845,"h":0.435,"l":0.3},{"s":"f","w":0.85,"h":0.436,"l":0.33},{"s":"f","w":0.86,"h":0.438,"l":0.4},{"s":"f","w":0.875,"h":0.442,"l":0.442},{"s":"f","w":0.879,"h":0.442,"l":0.36},{"s":"f","w":0.883,"h":0.442,"l":0.3},{"s":"f","w":0.887,"h":0.44,"l":0.33},{"s":"f","w":0.89,"h":0.43,"l":0.2},{"s":"f","w":0.893,"h":0.41,"l":0.1},{"s":"f","w":0.895,"h":0.39,"l":0.05},{"s":"f","w":0.897,"h":0.37,"l":0.02},{"s":"f","w":0.899,"h":0.36,"l":0.01},{"s":"f","w":0.9,"h":0.35,"l":0.02}
]},
"encoding":{
"x":{"field":"w","type":"quantitative","scale":{"domain":[0.3,0.9],"nice":false,"zero":false},"axis":{"values":[0.3,0.4,0.5,0.6,0.7,0.8,0.9],"format":".1f","title":"Wavelength (µm)","labelPadding":21,"titlePadding":15}},
"y":{"field":"h","type":"quantitative","scale":{"domain":[0,1],"nice":false},"axis":{"values":[0,0.1,0.2,0.3,0.4,0.5,0.6,0.7,0.8,0.9,1],"format":".1~f","title":"Transmission","labelPadding":20,"titlePadding":8}},
"y2":{"field":"l"},
"fill":{"field":"s","type":"nominal","scale":{"domain":["a","b","c","d","e","f"],"range":["#FFFF00","#FF0000","#00FFFF","#808080","#FF99CC","#99CC00"]},"legend":{"orient":"none","legendX":39,"legendY":6,"title":null,"symbolType":"M-1.6,0H1.6","symbolSize":400,"symbolStrokeWidth":2,"labelFont":"DejaVu Sans","labelFontSize":12,"labelColor":"#000","labelLimit":400,"rowPadding":4.3,"labelOffset":11,"padding":0,"labelExpr":"{'a':'1%_Soot_Smoke_June_03','b':'1%_Soot_Smoke_Sept_03','c':'10%_Soot_Smoke_Sept_03','d':'Rural_VIS_23km','e':'1%_Soot_Smoke_Sept_03_VIS_23km','f':'Maritime_VIS_23km'}[datum.label]","encode":{"symbols":{"update":{"stroke":{"scale":"fill","field":"value"},"strokeWidth":{"value":2}}}}}},
"stroke":{"field":"s","type":"nominal","scale":{"domain":["a","b","c","d","e","f"],"range":["#FFFF00","#FF0000","#00FFFF","#808080","#FF99CC","#99CC00"]},"legend":null}
},
"layer":[
{"transform":[{"filter":"datum.s=='a'"}],"mark":{"type":"area","strokeWidth":1,"opacity":1}},
{"transform":[{"filter":"datum.s=='b'"}],"mark":{"type":"area","strokeWidth":1,"opacity":1}},
{"transform":[{"filter":"datum.s=='c'"}],"mark":{"type":"area","strokeWidth":1,"opacity":1}},
{"transform":[{"filter":"datum.s=='d'"}],"mark":{"type":"area","strokeWidth":1,"opacity":1}},
{"transform":[{"filter":"datum.s=='e'"}],"mark":{"type":"area","strokeWidth":1,"opacity":1}},
{"transform":[{"filter":"datum.s=='f'"}],"mark":{"type":"area","strokeWidth":1,"opacity":1}}
]
}
